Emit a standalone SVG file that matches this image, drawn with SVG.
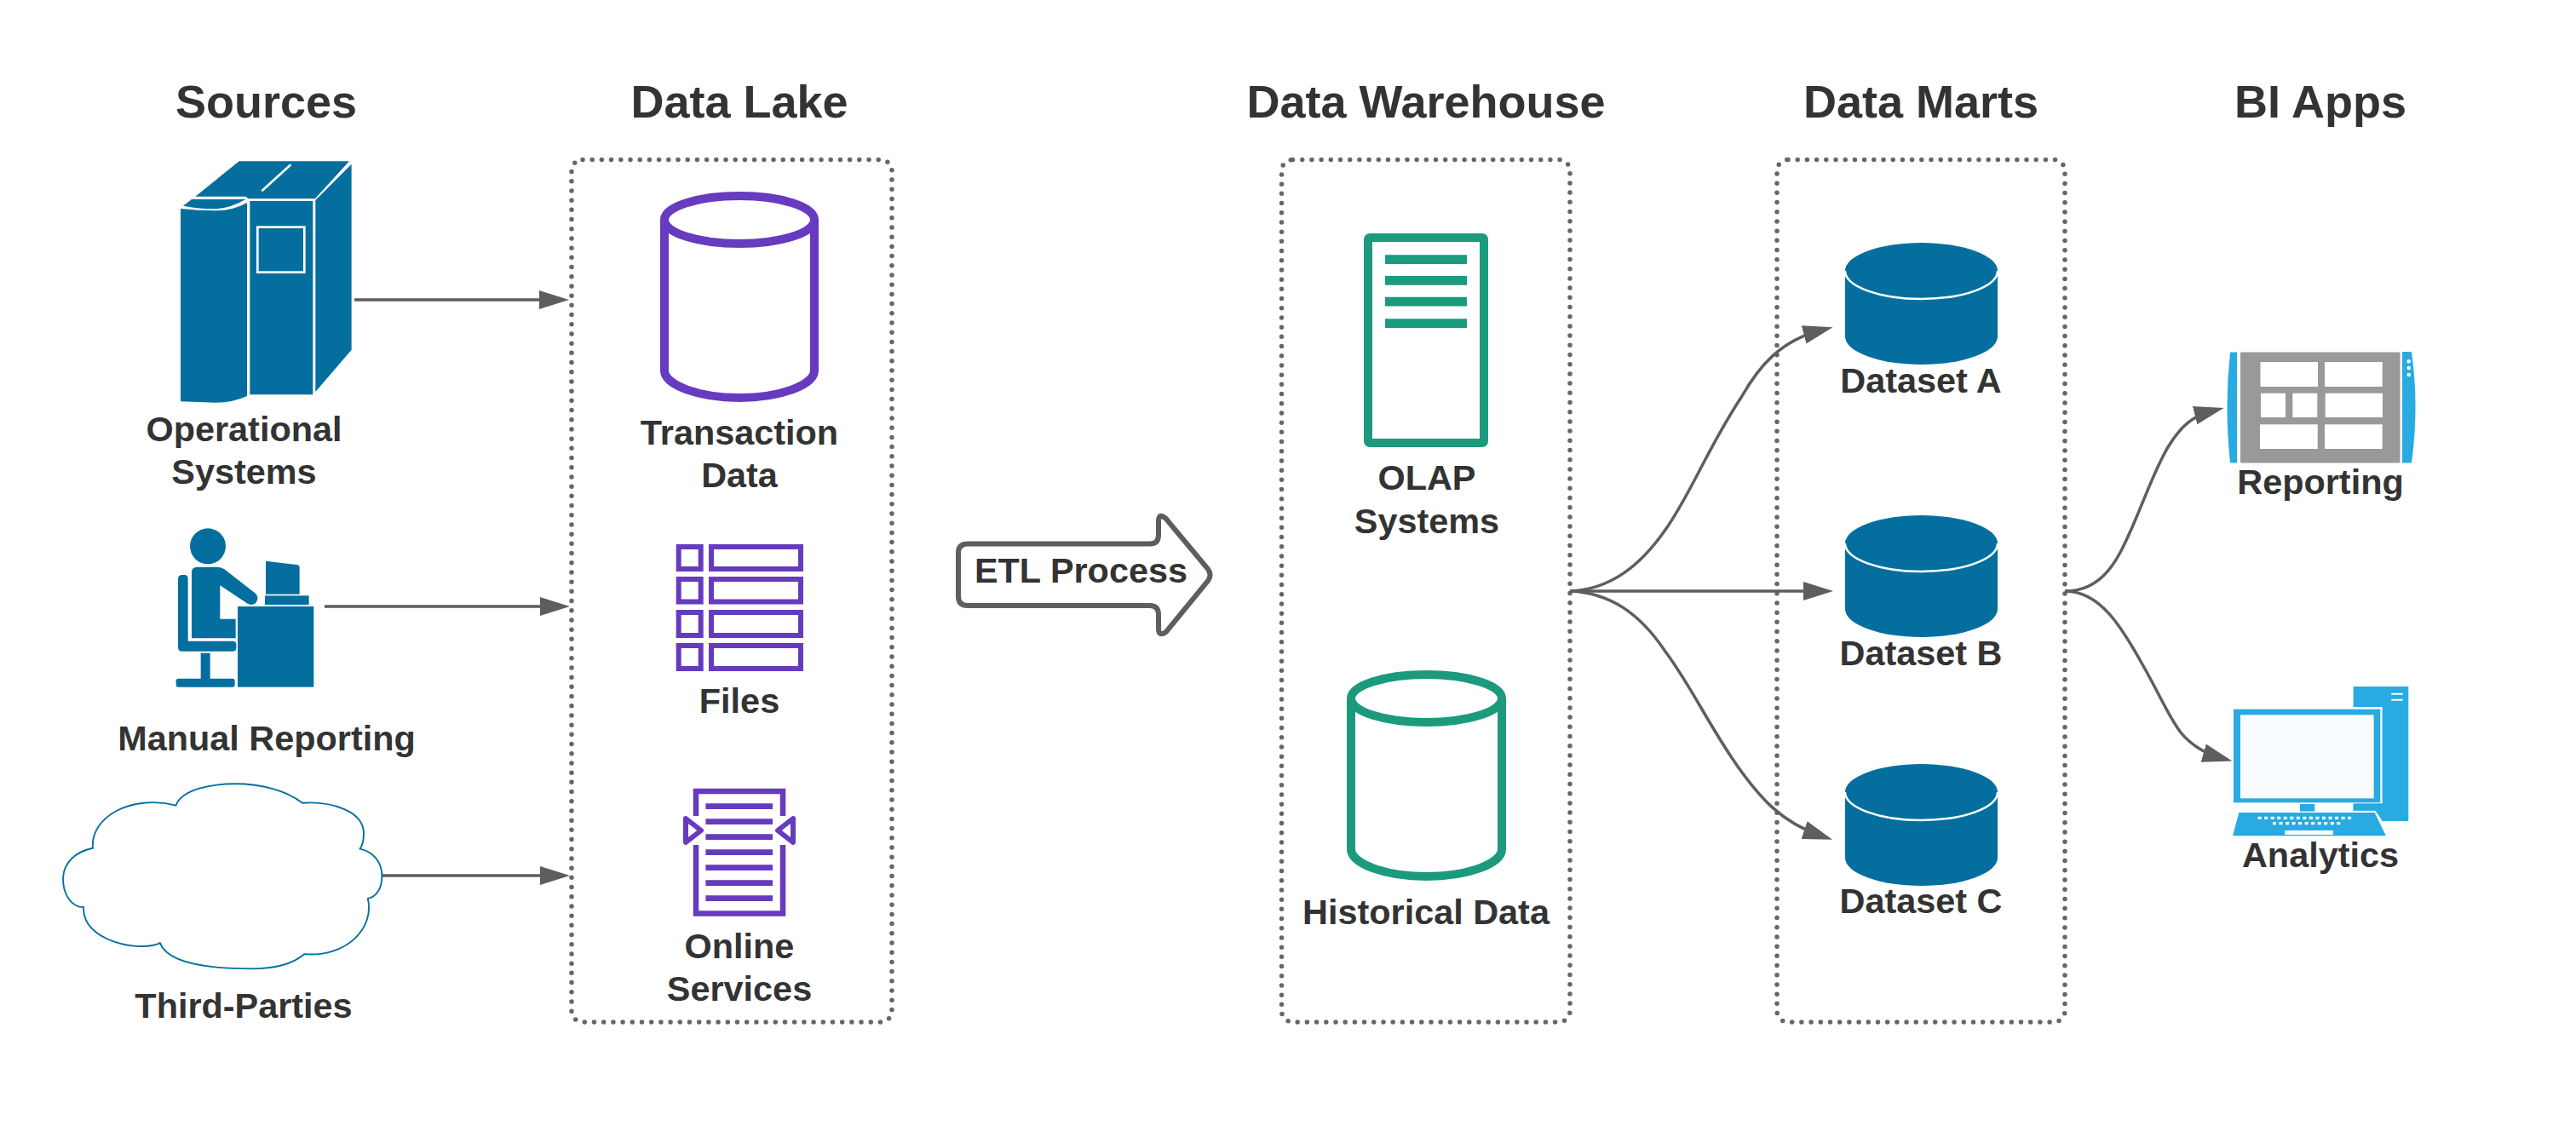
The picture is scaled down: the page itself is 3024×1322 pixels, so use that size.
<svg xmlns="http://www.w3.org/2000/svg" width="3024" height="1322" viewBox="0 0 3024 1322">
<style>
text{font-family:"Liberation Sans",Arial,sans-serif;font-weight:700;fill:#333;text-anchor:middle}
.h{font-size:54px}
.l{font-size:41.4px}
.box{fill:none;stroke:#666;stroke-width:5.5;stroke-linecap:round;stroke-dasharray:0 11.2}
.e{fill:none;stroke:#5e5e5e;stroke-width:3.5}
.pu{fill:none;stroke:#663bbf}
.te{fill:none;stroke:#1b9a7e;stroke-width:10}
.dk{fill:#046f9f}
.sb{fill:#29abe2}
.w{fill:#fff}
</style>
<defs>
<marker id="ah" markerUnits="userSpaceOnUse" markerWidth="36" markerHeight="24" refX="20" refY="12" orient="auto"><path d="M0 1L35 12L0 23Z" fill="#5e5e5e"/></marker>
<g id="ds"><path class="dk" d="M2166 318A89.5 33 0 0 1 2345 318V395A89.5 33 0 0 1 2166 395Z"/><path d="M2166 318A89.5 33 0 0 0 2345 318" fill="none" stroke="#fff" stroke-width="2.5"/></g>
</defs>
<rect width="3024" height="1322" fill="#fff"/>
<g id="headings">
<text class="h" x="312.500" y="138">Sources</text>
<text class="h" x="868" y="138">Data Lake</text>
<text class="h" x="1674" y="138">Data Warehouse</text>
<text class="h" x="2255" y="138">Data Marts</text>
<text class="h" x="2724" y="138">BI Apps</text>
</g>
<g id="container-lake"><rect class="box" x="671" y="187.5" width="376" height="1012.5" rx="13"/></g>
<g id="container-warehouse"><rect class="box" x="1504.5" y="187.5" width="338.5" height="1012.5" rx="13"/></g>
<g id="container-marts"><rect class="box" x="2086" y="187.5" width="338" height="1012.5" rx="13"/></g>
<g id="connectors">
<path class="e" marker-end="url(#ah)" d="M416 352H653"/>
<path class="e" marker-end="url(#ah)" d="M381 712H654"/>
<path class="e" marker-end="url(#ah)" d="M448 1028H654"/>
<path class="e" marker-end="url(#ah)" d="M1843 694C1890 692 1925 665 1955 622C1985 580 2005 525 2045 465C2065 430 2090 400 2137 388"/>
<path class="e" marker-end="url(#ah)" d="M1843 694H2137"/>
<path class="e" marker-end="url(#ah)" d="M1843 694C1890 696 1925 720 1955 765C1985 805 2005 850 2040 900C2065 935 2090 965 2137 981"/>
<path class="e" marker-end="url(#ah)" d="M2424 694C2470 694 2487 655 2503 619C2520 580 2530 550 2545 525C2560 500 2575 488 2596 482.7"/>
<path class="e" marker-end="url(#ah)" d="M2424 694C2465 694 2490 735 2515 780C2535 815 2545 840 2560 860C2572 875 2590 885 2606 889.5"/>
</g>
<g id="operational-systems">
<g transform="translate(190 170) scale(.3333)" class="dk">
<path d="M118 182L272 58H660L540 190H305L295 182Z"/>
<path d="M75 215L105 192H295Q245 222 190 226Q130 226 75 215Z"/>
<path d="M66 225Q130 232 190 232Q250 232 300 204V885Q250 908 190 908L66 904Z"/>
<path d="M310 198H532V880H310Z"/>
<path d="M541 195L668 68V722L541 870Z"/>
<path d="M352 163L454 70" stroke="#fff" stroke-width="8" fill="none"/>
<rect x="337" y="290" width="165" height="159" fill="none" stroke="#fff" stroke-width="8"/>
</g>
<text class="l" x="286.500" y="518">Operational</text>
<text class="l" x="286.500" y="568">Systems</text>
</g>
<g id="manual-reporting">
<g transform="translate(190 600) scale(.3333)" class="dk">
<circle cx="162" cy="124" r="63"/>
<path d="M105 215Q105 197 125 197H195Q210 197 220 205L330 290Q345 305 330 325Q315 335 300 325L205 262V380H260V448H105Z"/>
<path d="M57 240Q57 225 72 225H80Q92 225 92 240V458H250Q262 458 262 470V482Q262 494 250 494H70Q57 494 57 480Z"/>
<rect x="137" y="500" width="33" height="92"/>
<rect x="50" y="590" width="207" height="30" rx="8"/>
<rect x="267" y="336" width="268" height="284"/>
<rect x="363" y="298" width="155" height="32"/>
<path d="M366 176L480 190Q485 192 485 200V293H366Z"/>
</g>
<text class="l" x="313" y="881">Manual Reporting</text>
</g>
<g id="third-parties">
<path transform="translate(50 600) scale(.415 .408)" fill="#fff" stroke="#046f9f" stroke-width="4.500" d="M377 847C395 800 480 785 545 785C620 785 690 805 735 840C810 835 915 860 908 935C908 950 905 960 898 972C935 980 960 1010 960 1050C960 1085 945 1110 920 1115C940 1200 860 1285 740 1275C700 1310 640 1317 590 1317C480 1317 355 1305 332 1243C280 1270 110 1240 116 1140C80 1140 58 1100 58 1060C58 1010 95 980 142 970C135 880 250 815 377 847Z"/>
<text class="l" x="286" y="1195">Third-Parties</text>
</g>
<g id="transaction-data">
<path class="pu" stroke-width="10" d="M780 258V435C780 452 820 467 868 467C916 467 956 452 956 435V258"/>
<ellipse class="pu" stroke-width="10" cx="868" cy="258" rx="88" ry="28"/>
<text class="l" x="868" y="522">Transaction</text>
<text class="l" x="868" y="572">Data</text>
</g>
<g id="files">
<g class="pu" stroke-width="6">
<rect x="796.7" y="642" width="26" height="26"/><rect x="835" y="642" width="105" height="26"/>
<rect x="796.7" y="680" width="26" height="26.500"/><rect x="835" y="680" width="105" height="26.500"/>
<rect x="796.7" y="719" width="26" height="27"/><rect x="835" y="719" width="105" height="27"/>
<rect x="796.7" y="758" width="26" height="27"/><rect x="835" y="758" width="105" height="27"/>
</g>
<text class="l" x="868" y="837">Files</text>
</g>
<g id="online-services">
<path class="pu" stroke-width="6.5" d="M817 958V929H919V958M817 992V1072.500H919V992"/>
<path fill="none" stroke="#663bbf" stroke-width="6.700" d="M828.400 946.700H907M828.400 964.700H907M828.400 982.700H907M828.400 1000.700H907M828.400 1018.700H907M828.400 1036.700H907M828.400 1054.700H907"/>
<path class="pu" stroke-width="6" stroke-linejoin="round" d="M805 961L823 975L805 989ZM931 961L913 975L931 989Z"/>
<text class="l" x="868" y="1125">Online</text>
<text class="l" x="868" y="1175">Services</text>
</g>
<g id="etl-process">
<path fill="#fff" stroke="#5e5e5e" stroke-width="6" d="M1136 638.500H1350Q1360 638.500 1360 628V612Q1360 605 1364 606Q1368 607 1372 613L1418 668Q1423 675 1418 682L1372 738Q1368 744 1364 744Q1360 745 1360 738V722Q1360 711 1350 711H1136Q1125 711 1125 700V649Q1125 638.500 1136 638.500Z"/>
<text class="l" x="1269" y="684">ETL Process</text>
</g>
<g id="olap-systems">
<rect class="te" x="1606" y="279" width="136" height="241" rx="2"/>
<path fill="none" stroke="#1b9a7e" stroke-width="10.700" d="M1626 304.600H1722M1626 329.400H1722M1626 354.200H1722M1626 379.600H1722"/>
<text class="l" x="1675" y="575">OLAP</text>
<text class="l" x="1675" y="625.500">Systems</text>
</g>
<g id="historical-data">
<path class="te" d="M1586 820V997C1586 1014 1626 1029 1674.500 1029C1723 1029 1763 1014 1763 997V820"/>
<ellipse class="te" cx="1674.500" cy="820" rx="88.500" ry="28"/>
<text class="l" x="1674" y="1085">Historical Data</text>
</g>
<g id="dataset-a"><use href="#ds"/><text class="l" x="2255" y="461">Dataset A</text></g>
<g id="dataset-b"><use href="#ds" y="320"/><text class="l" x="2255" y="781">Dataset B</text></g>
<g id="dataset-c"><use href="#ds" y="612"/><text class="l" x="2255" y="1072">Dataset C</text></g>
<g id="reporting">
<path class="sb" d="M2626 413.500H2618Q2611 478 2618 543.500H2626Z"/>
<path class="sb" d="M2820 413H2831Q2840 478 2831 543.500H2820Z"/>
<rect x="2630" y="413.500" width="187.500" height="130" rx="1" fill="#999"/>
<g class="w">
<rect x="2653.500" y="425" width="67.500" height="29"/><rect x="2729" y="425" width="67.700" height="29"/>
<rect x="2654" y="461.700" width="29" height="28.300"/><rect x="2691.300" y="461.700" width="29" height="28.300"/><rect x="2729.700" y="461.700" width="67.300" height="28.300"/>
<rect x="2653" y="498.300" width="67.700" height="28.700"/><rect x="2729" y="498.300" width="67.700" height="28.700"/>
<circle cx="2827.700" cy="424.300" r="2.300"/><circle cx="2827.700" cy="432" r="2.300"/><circle cx="2827.700" cy="440" r="2.300"/>
</g>
<text class="l" x="2724" y="580">Reporting</text>
</g>
<g id="analytics">
<g transform="translate(2400 780) scale(.3333)">
<rect class="sb" x="1088" y="78" width="194" height="474"/>
<path fill="#fff" d="M1082 490H1190L1190 150H1082ZM1088 492V515H1165L1190 552H1100L1088 530Z"/>
<rect class="sb" x="666" y="158" width="517" height="329"/>
<rect x="690" y="178" width="470" height="294" fill="#f8fcfe"/>
<rect class="sb" x="900" y="492" width="52" height="26"/>
<rect class="sb" x="1088" y="492" width="95" height="23"/>
<path class="sb" d="M685 522H1163L1203 604H663Z"/>
<path fill="none" stroke="#fff" stroke-width="10" stroke-dasharray="12 10.600" d="M752 541H1090M804 560H1044"/>
<rect class="w" x="847" y="585" width="170" height="15"/>
<path fill="none" stroke="#fff" stroke-width="6" d="M1222 104H1262M1222 125H1262"/>
</g>
<text class="l" x="2724" y="1018">Analytics</text>
</g>
</svg>
